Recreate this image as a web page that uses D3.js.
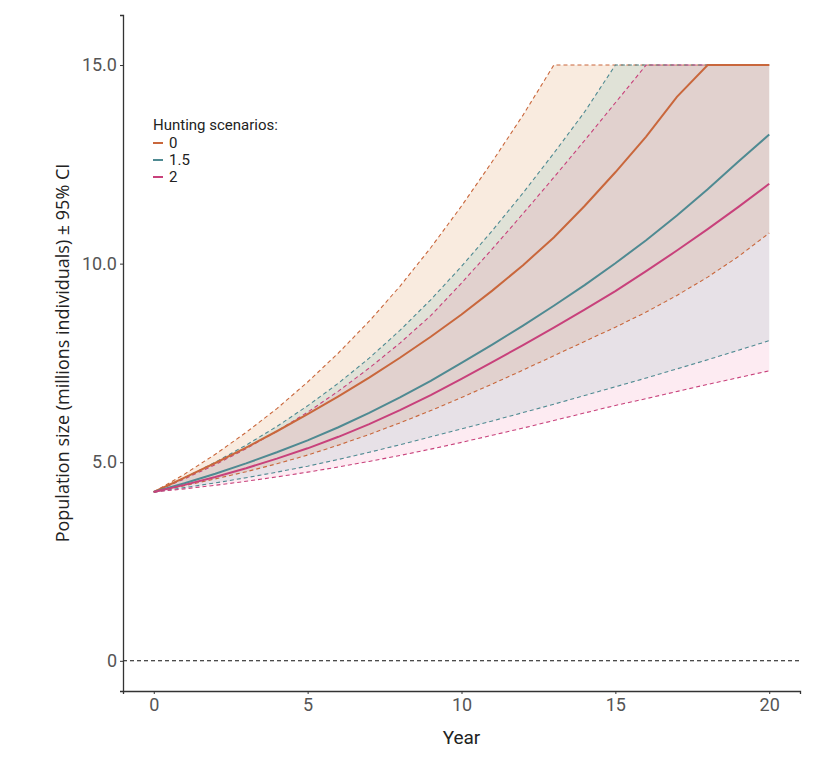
<!DOCTYPE html>
<html>
<head>
<meta charset="utf-8">
<script src="https://cdn.jsdelivr.net/npm/d3@7"></script>
<style>
  body { margin: 0; background: #fff; }
  svg { display: block; }
</style>
</head>
<body>
<div id="chart"></div>
<script>
// Years 0..20 and population (millions) per hunting scenario, capped at 15
const years = d3.range(0, 21);
const scenarios = ['0', '1.5', '2'];

const mean0   = [4.25, 4.61, 4.98, 5.37, 5.78, 6.21, 6.66, 7.13, 7.63, 8.16, 8.72, 9.32, 9.96, 10.66, 11.45, 12.3, 13.2, 14.2, 15, 15, 15];
const upper0  = [4.25, 4.7, 5.2, 5.75, 6.35, 7.02, 7.75, 8.55, 9.43, 10.4, 11.45, 12.57, 13.74, 15, 15, 15, 15, 15, 15, 15, 15];
const lower0  = [4.25, 4.41, 4.58, 4.76, 4.96, 5.18, 5.43, 5.7, 5.99, 6.3, 6.63, 6.97, 7.32, 7.68, 8.04, 8.4, 8.78, 9.2, 9.66, 10.18, 10.77];

const mean15  = [4.25, 4.47, 4.71, 4.97, 5.25, 5.55, 5.88, 6.24, 6.63, 7.05, 7.5, 7.96, 8.44, 8.94, 9.46, 10.01, 10.59, 11.21, 11.87, 12.57, 13.25];
const upper15 = [4.25, 4.61, 5.0, 5.43, 5.9, 6.42, 6.99, 7.62, 8.32, 9.09, 9.93, 10.83, 11.78, 12.78, 13.82, 15, 15, 15, 15, 15, 15];
const lower15 = [4.25, 4.36, 4.48, 4.61, 4.75, 4.9, 5.07, 5.25, 5.44, 5.64, 5.84, 6.04, 6.25, 6.46, 6.68, 6.9, 7.12, 7.35, 7.58, 7.82, 8.06];

const mean2   = [4.25, 4.43, 4.63, 4.85, 5.09, 5.35, 5.64, 5.96, 6.31, 6.69, 7.1, 7.52, 7.95, 8.39, 8.84, 9.31, 9.81, 10.33, 10.87, 11.43, 12.01];
const upper2  = [4.25, 4.58, 4.94, 5.34, 5.78, 6.26, 6.79, 7.37, 8.0, 8.69, 9.51, 10.37, 11.26, 12.17, 13.1, 14.05, 15, 15, 15, 15, 15];
const lower2  = [4.25, 4.33, 4.42, 4.52, 4.63, 4.75, 4.88, 5.02, 5.17, 5.33, 5.5, 5.68, 5.86, 6.05, 6.24, 6.43, 6.6, 6.78, 6.96, 7.13, 7.3];

const yTicks = [0, 5, 10, 15];
const xTicks = [0, 5, 10, 15, 20];

const lineColors = ['#c9673c', '#4f8a92', '#c8417b'];
const fillColors = ['#dc8a42', '#3caaa0', '#ec5a94'];
const fillAlpha  = [0.17, 0.13, 0.12];

const series = [
  { name: scenarios[0], mean: mean0,  lo: lower0,  hi: upper0 },
  { name: scenarios[1], mean: mean15, lo: lower15, hi: upper15 },
  { name: scenarios[2], mean: mean2,  lo: lower2,  hi: upper2 }
];

const W = 826, H = 758;
const svg = d3.select('#chart').append('svg')
  .attr('width', W).attr('height', H);

const x = d3.scaleLinear().domain([-1, 21]).range([123, 800]);
const y = d3.scaleLinear().domain([-0.76, 16.26]).range([691, 15]);

const tickFont = "'Roboto', sans-serif";
const labFont = "'Open Sans', 'Noto Sans', sans-serif";

const lineGen = d3.line().x((d, i) => x(years[i])).y(d => y(d));

// ribbons
series.forEach((s, k) => {
  const area = d3.area()
    .x((d, i) => x(years[i]))
    .y0((d, i) => y(s.lo[i]))
    .y1((d, i) => y(s.hi[i]));
  svg.append('path')
    .datum(s.mean)
    .attr('d', area)
    .attr('fill', fillColors[k])
    .attr('fill-opacity', fillAlpha[k]);
});

// dashed CI bounds
series.forEach((s, k) => {
  [s.lo, s.hi].forEach(arr => {
    svg.append('path')
      .datum(arr)
      .attr('d', lineGen)
      .attr('fill', 'none')
      .attr('stroke', lineColors[k])
      .attr('stroke-width', 1.1)
      .attr('stroke-dasharray', '4,3');
  });
});

// mean lines
series.forEach((s, k) => {
  svg.append('path')
    .datum(s.mean)
    .attr('d', lineGen)
    .attr('fill', 'none')
    .attr('stroke', lineColors[k])
    .attr('stroke-width', 2);
});

// zero reference line
svg.append('line')
  .attr('x1', x(-1)).attr('x2', x(21))
  .attr('y1', y(0)).attr('y2', y(0))
  .attr('stroke', '#111')
  .attr('stroke-width', 1.1)
  .attr('stroke-dasharray', '4,3');

// axes
const yAxis = svg.append('g')
  .attr('transform', `translate(${x(-1)},0)`)
  .call(d3.axisLeft(y).tickValues(yTicks).tickSize(3).tickPadding(3)
    .tickFormat(d => d === 0 ? '0' : d3.format('.1f')(d)));
const xAxis = svg.append('g')
  .attr('transform', `translate(0,${y(-0.76)})`)
  .call(d3.axisBottom(x).tickValues(xTicks).tickSize(3).tickPadding(4));

[yAxis, xAxis].forEach(g => {
  g.select('.domain').attr('stroke', '#333').attr('stroke-width', 1.3);
  g.selectAll('.tick line').attr('stroke', '#333');
  g.selectAll('.tick text')
    .attr('fill', '#555')
    .style('font-family', tickFont)
    .style('font-size', '18px');
});

// axis titles
svg.append('text')
  .attr('x', x(10)).attr('y', 744)
  .attr('text-anchor', 'middle')
  .style('font-family', tickFont)
  .style('font-size', '19px')
  .attr('fill', '#222')
  .text('Year');

svg.append('text')
  .attr('transform', `translate(69,${y(7.75)}) rotate(-90)`)
  .attr('text-anchor', 'middle')
  .style('font-family', labFont)
  .style('font-size', '18px')
  .attr('fill', '#222')
  .text('Population size (millions individuals) ± 95% CI');

// legend
const lg = svg.append('g').attr('transform', 'translate(153,130)');
lg.append('text')
  .style('font-family', tickFont)
  .style('font-size', '15px')
  .attr('fill', '#222')
  .text('Hunting scenarios:');
scenarios.forEach((s, k) => {
  const yy = 18 + k * 17;
  lg.append('line')
    .attr('x1', 0).attr('x2', 10)
    .attr('y1', yy - 5).attr('y2', yy - 5)
    .attr('stroke', lineColors[k])
    .attr('stroke-width', 2);
  lg.append('text')
    .attr('x', 16).attr('y', yy)
    .style('font-family', tickFont)
    .style('font-size', '15px')
    .attr('fill', '#222')
    .text(s);
});
</script>
</body>
</html>
